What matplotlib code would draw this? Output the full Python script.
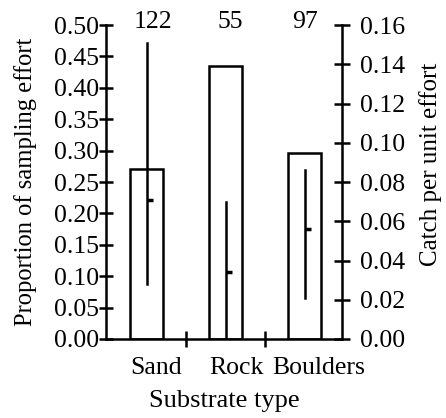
import matplotlib
matplotlib.use("Agg")
import matplotlib.pyplot as plt
import numpy as np

plt.rcParams['font.family'] = ['Liberation Serif', 'DejaVu Serif']

# data
substrates = ["Sand", "Rock", "Boulders"]
effort_prop = [0.27, 0.435, 0.297]
n_samples = [122, 55, 97]
cpue_mean = [0.071, 0.034, 0.056]
cpue_low = [0.028, 0.0, 0.021]
cpue_high = [0.151, 0.070, 0.086]

x = np.arange(len(substrates))

fig = plt.figure(figsize=(4.46, 4.18), dpi=100)
ax = fig.add_axes([0.238, 0.189, 0.529, 0.751])
ax2 = ax.twinx()

lw = 1.8
ax.bar(x, effort_prop, width=0.42, facecolor="white", edgecolor="black", linewidth=lw)
ax.set_xlim(-0.51, 2.47)
ax.set_ylim(0, 0.5)
ax.set_yticks(np.arange(0, 0.51, 0.05))
ax.set_yticklabels([f"{v:.2f}" for v in np.arange(0, 0.51, 0.05)])

ax.set_xticks([0.5, 1.5])
ax.set_xticklabels([])
ax.set_xticks(x + np.array([0.12, 0.13, 0.18]), substrates, minor=True)
ax.tick_params(axis="x", which="major", direction="inout", length=11, width=lw)
ax.tick_params(axis="x", which="minor", length=0, pad=13, labelsize=18.5)
ax.tick_params(axis="y", direction="inout", length=10, width=lw, labelsize=18.5, pad=0)

for s in ["top", "right"]:
    ax.spines[s].set_visible(False)
for s in ["left", "bottom"]:
    ax.spines[s].set_linewidth(lw)

ax.set_xlabel("Substrate type", fontsize=19, labelpad=8)
ax.set_ylabel("Proportion of sampling effort", fontsize=17.7, labelpad=12)

# catch per unit effort on the right axis
for xi, m, lo, hi in zip(x, cpue_mean, cpue_low, cpue_high):
    ax2.plot([xi, xi], [lo, hi], color="black", linewidth=lw)
ax2.plot(x, cpue_mean, linestyle="none", marker=1, markersize=4,
         markeredgewidth=2.5, color="black")
ax2.set_ylim(0, 0.16)
ax2.set_yticks(np.arange(0, 0.161, 0.02))
ax2.set_yticklabels([f"{v:.2f}" for v in np.arange(0, 0.161, 0.02)])
ax2.tick_params(axis="y", direction="inout", length=12, width=lw, labelsize=18.5, pad=7)
for s in ["top", "left", "bottom"]:
    ax2.spines[s].set_visible(False)
ax2.spines["right"].set_linewidth(lw)
ax2.set_ylabel("Catch per unit effort", fontsize=18)
ax2.yaxis.set_label_coords(1.325, 0.557)

# sample sizes above each bar
for xi, n in zip(x + np.array([0.08, 0.06, 0.0]), n_samples):
    ax.text(xi, 0.495, str(n), ha="center", va="baseline", fontsize=18.5)

fig.savefig("out.png", dpi=100)
